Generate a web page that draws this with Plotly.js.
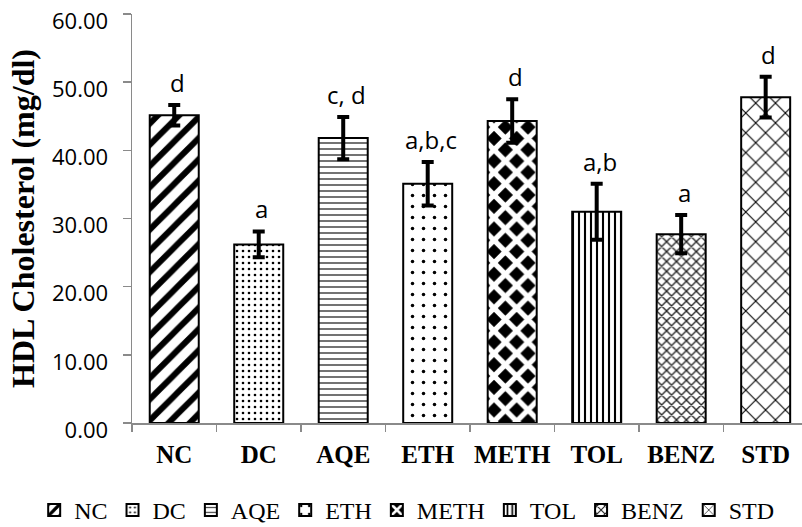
<!DOCTYPE html>
<html>
<head>
<meta charset="utf-8">
<script src="https://cdn.plot.ly/plotly-3.0.1.min.js"></script>
<style>
  html, body { margin: 0; padding: 0; background: #fff; }
  #chart { width: 802px; height: 527px; }
</style>
</head>
<body>
<div id="chart"></div>
<script>
// ---- data ----
var categories = ["NC", "DC", "AQE", "ETH", "METH", "TOL", "BENZ", "STD"];
var hdlValues  = [45.15, 26.2, 41.8, 35.1, 44.3, 31.0, 27.7, 47.8];
var hdlErrors  = [1.5, 1.9, 3.1, 3.2, 3.2, 4.1, 2.8, 3.0];
var sigLabels  = ["d", "a", "c, d", "a,b,c", "d", "a,b", "a", "d"];

// ---- styling (pattern per group) ----
var patterns = [
  {shape: "/", size: 15, solidity: 0.4, fgcolor: "#000", bgcolor: "#fff"},
  {shape: ".", size: 6,  solidity: 0.15, fgcolor: "#000", bgcolor: "#fff"},
  {shape: "-", size: 6,  solidity: 0.25, fgcolor: "#444", bgcolor: "#fff"},
  {shape: ".", size: 11, solidity: 0.08, fgcolor: "#000", bgcolor: "#fff"},
  {shape: "x", size: 16, solidity: 0.55, fgcolor: "#fff", bgcolor: "#000"},
  {shape: "|", size: 6,  solidity: 0.35, fgcolor: "#000", bgcolor: "#fff"},
  {shape: "x", size: 7,  solidity: 0.35, fgcolor: "#222", bgcolor: "#fff"},
  {shape: "x", size: 14, solidity: 0.15, fgcolor: "#000", bgcolor: "#fff"}
];

var traces = categories.map(function (c, i) {
  return {
    type: "bar",
    name: c,
    x: [c],
    y: [hdlValues[i]],
    width: 0.58,
    marker: {
      color: "#fff",
      line: {color: "#000", width: 2},
      pattern: patterns[i]
    },
    error_y: {
      type: "data",
      array: [hdlErrors[i]],
      visible: true,
      color: "#000",
      thickness: 4,
      width: 6
    },
    hoverinfo: "skip"
  };
});

var annotations = categories.map(function (c, i) {
  return {
    x: c,
    y: hdlValues[i] + hdlErrors[i],
    xref: "x",
    yref: "y",
    text: sigLabels[i],
    showarrow: false,
    yanchor: "bottom",
    xshift: 3,
    yshift: 4,
    font: {family: "Open Sans", size: 24, color: "#000"}
  };
});

var axisGray = "#8a8a8a";

var layout = {
  width: 802,
  height: 527,
  paper_bgcolor: "#fff",
  plot_bgcolor: "#fff",
  margin: {l: 132, r: 0, t: 14, b: 104, autoexpand: false},
  barmode: "overlay",
  showlegend: true,
  legend: {
    orientation: "h",
    xref: "paper",
    yref: "paper",
    x: -0.146,
    xanchor: "left",
    y: -0.2136,
    yanchor: "middle",
    font: {family: "Liberation Serif", size: 24, color: "#000"},
    itemclick: false,
    itemdoubleclick: false,
    traceorder: "normal"
  },
  xaxis: {
    type: "category",
    range: [-0.5, 7.43],
    tickson: "boundaries",
    tickangle: 0,
    ticks: "outside",
    ticklen: 7,
    tickwidth: 1.5,
    tickcolor: axisGray,
    showline: true,
    linecolor: axisGray,
    linewidth: 1.5,
    showgrid: false,
    ticklabelstandoff: 8,
    tickfont: {family: "Liberation Serif", size: 25, color: "#000", weight: "bold"}
  },
  yaxis: {
    range: [0, 60],
    dtick: 10,
    tick0: 0,
    tickformat: ".2f",
    ticks: "outside",
    ticklen: 8,
    tickwidth: 1.5,
    tickcolor: axisGray,
    showline: true,
    linecolor: axisGray,
    linewidth: 1.5,
    showgrid: false,
    zeroline: false,
    ticklabelstandoff: 10,
    ticklabelshift: 7,
    tickfont: {family: "Open Sans", size: 22, color: "#000"},
    title: {
      text: "HDL Cholesterol (mg/dl)",
      standoff: 8,
      font: {family: "Liberation Serif", size: 32, color: "#000", weight: "bold"}
    }
  },
  annotations: annotations
};

Plotly.newPlot("chart", traces, layout, {displayModeBar: false, staticPlot: true});
</script>
</body>
</html>
